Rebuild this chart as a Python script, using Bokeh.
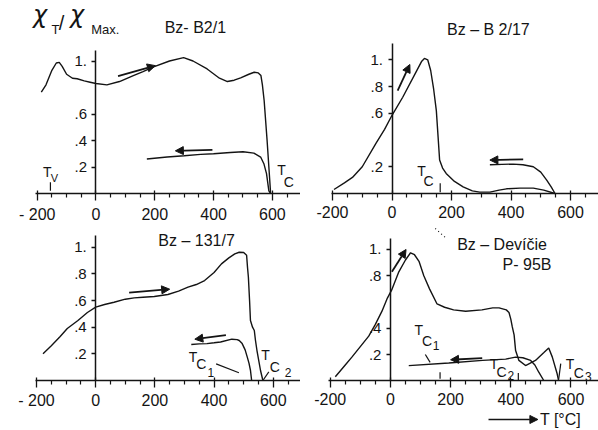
from bokeh.plotting import figure
from bokeh.layouts import gridplot
from bokeh.models import FixedTicker, Range1d, Arrow, NormalHead
from bokeh.core.properties import value
from bokeh.embed import file_html
from bokeh.resources import INLINE

FONT = "Liberation Sans"
INK = "#141414"

# ---------------- data (T in °C, chi_T / chi_max) ----------------
x_ticks = [-200, 0, 200, 400, 600]
x_minor = [-150, -100, -50, 50, 100, 150, 250, 300, 350, 450, 500, 550, 650]
x_labels_a = {-200: "- 200", 0: "0", 200: "200", 400: "400", 600: "600"}
x_labels_b = {-200: "-200", 0: "0", 200: "200", 400: "400", 600: "600"}

# Bz-B2/1
b21_heat_T = [-186, -170, -150, -135, -125, -115, -100, -80, -64, -40, -20, 0, 37, 80, 127, 160, 196,
              250, 298, 330, 378, 420, 447, 470, 492, 520, 538, 552, 561, 566, 572, 582, 594]
b21_heat_c = [0.765, 0.82, 0.93, 0.985, 0.99, 0.96, 0.90, 0.87, 0.866, 0.85, 0.84, 0.83, 0.82, 0.845,
              0.89, 0.92, 0.955, 1.0, 1.025, 1.0, 0.94, 0.87, 0.845, 0.855, 0.873, 0.90, 0.915, 0.91,
              0.89, 0.82, 0.70, 0.40, 0.0]
b21_cool_T = [594, 588, 580, 571, 560, 537, 500, 457, 400, 356, 300, 242, 173]
b21_cool_c = [0.0, 0.02, 0.15, 0.225, 0.275, 0.305, 0.315, 0.31, 0.30, 0.295, 0.285, 0.275, 0.26]
b21_y_ticks = [0.2, 0.4, 0.6, 1.0]

# Bz-B2/17
b217_heat_T = [-195, -160, -133, -100, -54, -25, 0, 36, 81, 100, 109, 120, 130, 140, 149, 155, 160,
               170, 182, 210, 239, 270, 295, 329, 360, 385, 430, 475, 510, 548]
b217_heat_c = [0.03, 0.08, 0.12, 0.20, 0.375, 0.48, 0.585, 0.72, 0.91, 0.99, 1.01, 1.0, 0.92, 0.78,
               0.62, 0.42, 0.25, 0.19, 0.15, 0.09, 0.05, 0.02, 0.01, 0.01, 0.025, 0.035, 0.04, 0.04,
               0.025, 0.0]
b217_cool_T = [548, 535, 520, 500, 475, 440, 407, 370, 329]
b217_cool_c = [0.0, 0.05, 0.10, 0.16, 0.20, 0.215, 0.22, 0.218, 0.215]
b217_y_ticks = [0.2, 0.6, 0.8, 1.0]

# Bz-131/7
b131_heat_T = [-178, -150, -120, -96, -60, -28, 0, 30, 62, 100, 130, 160, 198, 244, 280, 312, 340,
               368, 400, 425, 450, 470, 485, 500, 510, 513, 516, 520, 523, 530, 536, 540, 545, 557, 565]
b131_heat_c = [0.20, 0.26, 0.33, 0.39, 0.45, 0.51, 0.55, 0.57, 0.587, 0.61, 0.62, 0.625, 0.63, 0.645,
               0.67, 0.70, 0.72, 0.75, 0.81, 0.875, 0.92, 0.95, 0.962, 0.96, 0.94, 0.85, 0.775, 0.60,
               0.45, 0.40, 0.375, 0.30, 0.225, 0.075, 0.0]
b131_cool_T = [527, 523, 518, 512, 505, 495, 485, 478, 460, 422, 400, 376, 350, 323]
b131_cool_c = [0.0, 0.077, 0.13, 0.177, 0.23, 0.277, 0.30, 0.307, 0.31, 0.289, 0.283, 0.277, 0.275, 0.27]
b131_y_ticks = [0.2, 0.4, 0.6, 0.8, 1.0]

# Bz-Devicie P-95B
dev_heat_T = [-183, -150, -128, -100, -72, -50, -28, -10, 4, 28, 50, 67, 80, 95, 111, 130, 155, 180,
              210, 250, 304, 340, 361, 385, 394, 400, 405, 411, 416, 427, 449, 482, 510, 526, 538, 554, 559]
dev_heat_c = [0.03, 0.12, 0.18, 0.26, 0.34, 0.43, 0.53, 0.63, 0.69, 0.83, 0.92, 0.975, 0.96, 0.91,
              0.80, 0.70, 0.585, 0.56, 0.54, 0.53, 0.54, 0.555, 0.555, 0.54, 0.52, 0.47, 0.41, 0.35,
              0.23, 0.155, 0.116, 0.155, 0.215, 0.25, 0.18, 0.053, 0.0]
dev_cool_T = [510, 493, 480, 466, 440, 416, 383, 306, 194, 61]
dev_cool_c = [0.0, 0.065, 0.12, 0.155, 0.175, 0.18, 0.165, 0.155, 0.135, 0.115]
dev_y_ticks = [0.2, 0.4, 0.8, 1.0]


def tick_text(ticks):
    return {t: ("1." if t == 1.0 else "." + str(int(round(t * 10)))) for t in ticks}


def panel(width, height, xr, yr, yticks, ybound, xlab):
    p = figure(width=width, height=height, x_range=Range1d(*xr), y_range=Range1d(*yr),
               output_backend="svg", toolbar_location=None,
               min_border_left=0, min_border_right=0, min_border_top=0,
               min_border_bottom=0)
    p.outline_line_color = None
    p.grid.visible = False
    p.background_fill_color = "white"
    p.border_fill_color = "white"
    xa = p.xaxis[0]
    xa.fixed_location = 0
    xa.ticker = FixedTicker(ticks=x_ticks, minor_ticks=x_minor)
    xa.major_label_overrides = xlab
    xa.bounds = (-205, 700)
    xa.axis_line_color = INK
    xa.axis_line_width = 1.5
    xa.major_tick_line_color = INK
    xa.major_tick_line_width = 1.3
    xa.minor_tick_line_color = INK
    xa.minor_tick_line_width = 1.2
    xa.major_tick_in = 3
    xa.major_tick_out = 7
    xa.minor_tick_in = 0
    xa.minor_tick_out = 4
    xa.major_label_standoff = 5
    xa.major_label_text_font = FONT
    xa.major_label_text_font_size = "16px"
    xa.major_label_text_color = INK
    ya = p.yaxis[0]
    ya.fixed_location = 0
    ya.ticker = FixedTicker(ticks=yticks, minor_ticks=[])
    ya.major_label_overrides = tick_text(yticks)
    ya.bounds = (0, ybound)
    ya.axis_line_color = INK
    ya.axis_line_width = 1.5
    ya.major_tick_line_color = INK
    ya.major_tick_line_width = 1.3
    ya.major_tick_in = 0
    ya.major_tick_out = 4
    ya.minor_tick_line_color = None
    ya.major_label_standoff = 5
    ya.major_label_text_font = FONT
    ya.major_label_text_font_size = "15px"
    ya.major_label_text_color = INK
    return p


def curve(p, xs, ys):
    p.line(xs, ys, line_color=INK, line_width=1.4)


def arrow(p, x0, y0, x1, y1, lw=1.8):
    p.add_layout(Arrow(end=NormalHead(size=8, fill_color=INK, line_color=INK, line_width=1),
                       x_start=x0, y_start=y0, x_end=x1, y_end=y1,
                       line_color=INK, line_width=lw))


def txt(p, x, y, s, size, align="center", font=FONT, style="normal"):
    p.text(x=[x], y=[y], text=[s], text_font=value(font), text_font_size=value(size),
           text_font_style=style, text_color=INK, text_align=align, text_baseline="middle")


def seg(p, x0, y0, x1, y1, dash="solid"):
    p.segment(x0=[x0], y0=[y0], x1=[x1], y1=[y1], line_color=INK, line_width=1.2, line_dash=dash)


# ---------------- panel 1 ----------------
p1 = panel(300, 226, (-324.8, 695.6), (-0.249, 1.4566), b21_y_ticks, 1.08, x_labels_a)
curve(p1, b21_heat_T, b21_heat_c)
curve(p1, b21_cool_T, b21_cool_c)
arrow(p1, 75, 0.885, 202, 0.965)
arrow(p1, 396, 0.33, 270, 0.322)
txt(p1, -214, 1.35, "χ", "24px", "left", "DejaVu Sans", "italic")
txt(p1, -151, 1.234, "T", "13px", "left")
txt(p1, -127, 1.29, "/", "20px", "left")
txt(p1, -88, 1.35, "χ", "24px", "left", "DejaVu Sans", "italic")
txt(p1, -16, 1.234, "Max.", "13px", "left")
txt(p1, 338, 1.253, "Bz- B2/1", "16px")
txt(p1, -166, 0.166, "T", "14px")
txt(p1, -141, 0.118, "V", "11px")
seg(p1, -155, 0.085, -155, 0.02)
txt(p1, 631, 0.174, "T", "14px")
txt(p1, 656, 0.085, "C", "14px")

# ---------------- panel 2 ----------------
p2 = panel(298, 226, (-307.6, 694.1), (-0.2468, 1.4435), b217_y_ticks, 1.12, x_labels_b)
curve(p2, b217_heat_T, b217_heat_c)
curve(p2, b217_cool_T, b217_cool_c)
arrow(p2, 19, 0.77, 60, 0.965)
arrow(p2, 441, 0.255, 329, 0.25)
txt(p2, 324, 1.23, "Bz – B 2/17", "16px")
txt(p2, 99, 0.172, "T", "14px")
txt(p2, 123, 0.09, "C", "14px")
seg(p2, 162, 0.077, 162, 0.01)

# ---------------- panel 3 ----------------
p3 = panel(300, 204, (-321.7, 692.1), (-0.3751, 1.1553), b131_y_ticks, 1.09, x_labels_a)
curve(p3, b131_heat_T, b131_heat_c)
curve(p3, b131_cool_T, b131_cool_c)
arrow(p3, 113, 0.66, 250, 0.685)
arrow(p3, 440, 0.34, 335, 0.31)
txt(p3, 341, 1.05, "Bz – 131/7", "16px")
txt(p3, 329, 0.18, "T", "14px")
txt(p3, 357, 0.122, "C", "14px")
txt(p3, 389, 0.062, "1", "12px")
seg(p3, 407, 0.125, 484, 0.058)
txt(p3, 574, 0.19, "T", "14px")
txt(p3, 605, 0.10, "C", "14px")
txt(p3, 650, 0.062, "2", "12px")
seg(p3, 565, 0.0, 585, 0.065)

# ---------------- panel 4 ----------------
p4 = panel(298, 204, (-298.7, 691.4), (-0.379, 1.1752), dev_y_ticks, 1.08, x_labels_b)
curve(p4, dev_heat_T, dev_heat_c)
curve(p4, dev_cool_T, dev_cool_c)
arrow(p4, 5, 0.83, 52, 1.0)
arrow(p4, 305, 0.172, 200, 0.16)
txt(p4, 371, 1.038, "Bz – Devíčie", "16px")
txt(p4, 454, 0.885, "P- 95B", "16px")
seg(p4, 149, 1.16, 186, 1.084, "1 3")
txt(p4, 94, 0.39, "T", "14px")
txt(p4, 122, 0.305, "C", "14px")
txt(p4, 152, 0.272, "1", "12px")
seg(p4, 116, 0.20, 132, 0.14)
seg(p4, 165, 0.065, 165, 0.015)
txt(p4, 344, 0.13, "T", "14px")
txt(p4, 369, 0.068, "C", "14px")
txt(p4, 400, 0.04, "2", "12px")
seg(p4, 425, 0.06, 425, 0.0)
txt(p4, 597, 0.13, "T", "14px")
txt(p4, 626, 0.058, "C", "14px")
txt(p4, 658, 0.03, "3", "12px")
seg(p4, 566, 0.13, 559, 0.01)
arrow(p4, 326, -0.295, 490, -0.295, 1.5)
txt(p4, 497, -0.295, "T [°C]", "16px", "left")

grid = gridplot([[p1, p2], [p3, p4]], toolbar_location=None)

open("out.html", "w").write(file_html(grid, INLINE))
